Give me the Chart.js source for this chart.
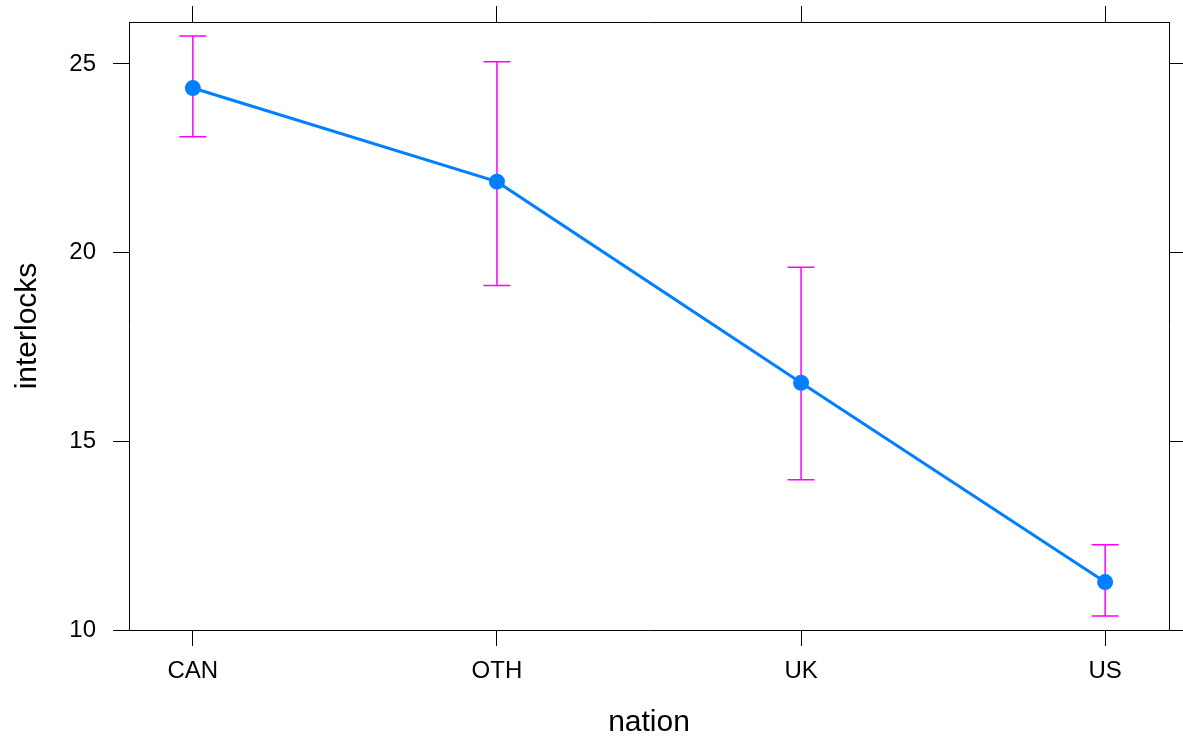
<!DOCTYPE html>
<html>
<head>
<meta charset="utf-8">
<title>interlocks by nation</title>
<script src="https://cdn.jsdelivr.net/npm/chart.js@4"></script>
<style>
  html, body { margin: 0; padding: 0; background: #ffffff; }
  #wrap { width: 1183px; height: 745px; }
</style>
</head>
<body>
<div id="wrap"><canvas id="effectChart" width="1183" height="745"></canvas></div>
<script>
// values
const nations = ['CAN', 'OTH', 'UK', 'US'];
const fitValues = [24.36, 21.88, 16.55, 11.27];
const upperValues = [25.74, 25.06, 19.61, 12.26];
const lowerValues = [23.07, 19.13, 13.98, 10.37];
const yTicks = [10, 15, 20, 25];

const FONT = '"Liberation Sans", Arial, Helvetica, sans-serif';

// confidence bars, drawn under the line
const errorBars = {
  id: 'errorBars',
  beforeDatasetsDraw(chart) {
    const { ctx, scales: { x, y } } = chart;
    ctx.save();
    ctx.strokeStyle = '#ff00ff';
    ctx.lineWidth = 1.5;
    nations.forEach((n, i) => {
      const px = x.getPixelForValue(i);
      const top = y.getPixelForValue(upperValues[i]);
      const bot = y.getPixelForValue(lowerValues[i]);
      ctx.beginPath();
      ctx.moveTo(px, top); ctx.lineTo(px, bot);
      ctx.moveTo(px - 13.5, top); ctx.lineTo(px + 13.5, top);
      ctx.moveTo(px - 13.5, bot); ctx.lineTo(px + 13.5, bot);
      ctx.stroke();
    });
    ctx.restore();
  }
};

const gridOpts = {
  drawOnChartArea: false,
  drawTicks: true,
  tickLength: 16,
  color: '#000000',
  lineWidth: 1
};
const borderOpts = { display: true, color: '#000000', width: 1 };

const xTickList = (scale) => { scale.ticks = nations.map((n, i) => ({ value: i })); };
const yTickList = (scale) => { scale.ticks = yTicks.map((v) => ({ value: v })); };

// fixed axis sizes so the panel lands where the reference has it
const fixSize = (w, h) => (s) => {
  if (w !== null) s.width = w;
  if (h !== null) s.height = h;
  s.paddingTop = 0; s.paddingBottom = 0;
  s.paddingLeft = 0; s.paddingRight = 0;
};

new Chart(document.getElementById('effectChart'), {
  type: 'line',
  data: {
    datasets: [{
      data: nations.map((n, i) => ({ x: i, y: fitValues[i] })),
      borderColor: '#0080ff',
      backgroundColor: '#0080ff',
      borderWidth: 3,
      pointRadius: 8,
      pointBorderWidth: 0,
      tension: 0,
      fill: false
    }]
  },
  options: {
    responsive: false,
    animation: false,
    devicePixelRatio: 1,
    layout: { padding: 0 },
    plugins: { legend: { display: false }, tooltip: { enabled: false } },
    scales: {
      x: {
        type: 'linear', position: 'bottom',
        min: -0.21, max: 3.21,
        afterBuildTicks: xTickList,
        afterFit: fixSize(null, 115),
        grid: gridOpts, border: borderOpts,
        ticks: {
          color: '#000000', padding: 11, maxRotation: 0,
          font: { family: FONT, size: 24 },
          callback: (v) => nations[v]
        },
        title: {
          display: true, text: 'nation', color: '#000000',
          font: { family: FONT, size: 30 },
          padding: { top: 0, bottom: 4 }
        }
      },
      x2: {
        type: 'linear', position: 'top',
        min: -0.21, max: 3.21,
        afterBuildTicks: xTickList,
        afterFit: fixSize(null, 22),
        grid: gridOpts, border: borderOpts,
        ticks: { display: false }
      },
      y: {
        type: 'linear', position: 'left',
        min: 10, max: 26.11,
        afterBuildTicks: yTickList,
        afterFit: fixSize(129, null),
        grid: gridOpts, border: borderOpts,
        ticks: {
          color: '#000000', padding: 17,
          font: { family: FONT, size: 24 }
        },
        title: {
          display: true, text: 'interlocks', color: '#000000',
          font: { family: FONT, size: 30 },
          padding: { top: 10, bottom: 0 }
        }
      },
      y2: {
        type: 'linear', position: 'right',
        min: 10, max: 26.11,
        afterBuildTicks: yTickList,
        afterFit: fixSize(14, null),
        grid: gridOpts, border: borderOpts,
        ticks: { display: false }
      }
    }
  },
  plugins: [errorBars]
});
</script>
</body>
</html>
